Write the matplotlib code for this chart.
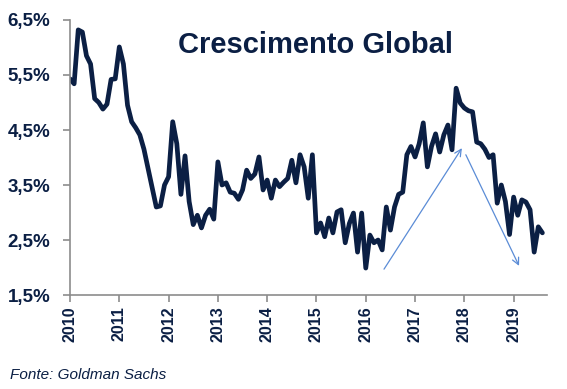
import matplotlib
matplotlib.use("Agg")
import matplotlib.pyplot as plt
import numpy as np

plt.rcParams['font.family'] = ['Liberation Sans', 'DejaVu Sans']

# crescimento global mensal, jan/2010 - ago/2019 (%)
valores = [
    5.43, 5.34, 6.32, 6.28, 5.85, 5.70, 5.07, 5.00, 4.88, 4.97, 5.42, 5.43,  # 2010
    6.01, 5.70, 4.95, 4.65, 4.54, 4.41, 4.15, 3.80, 3.45, 3.10, 3.12, 3.50,  # 2011
    3.65, 4.65, 4.25, 3.33, 4.03, 3.20, 2.78, 2.95, 2.72, 2.95, 3.06, 2.88,  # 2012
    3.92, 3.50, 3.54, 3.37, 3.35, 3.24, 3.41, 3.77, 3.62, 3.70, 4.01, 3.41,  # 2013
    3.59, 3.26, 3.59, 3.47, 3.55, 3.62, 3.95, 3.54, 4.05, 3.83, 3.26, 4.05,  # 2014
    2.63, 2.81, 2.56, 2.90, 2.63, 3.01, 3.05, 2.45, 2.80, 2.99, 2.28, 2.99,  # 2015
    1.99, 2.59, 2.45, 2.50, 2.32, 3.10, 2.68, 3.10, 3.33, 3.37, 4.05, 4.20,  # 2016
    4.01, 4.25, 4.63, 3.83, 4.20, 4.43, 4.10, 4.41, 4.59, 4.14, 5.26, 4.99,  # 2017
    4.90, 4.85, 4.83, 4.28, 4.25, 4.15, 4.00, 4.05, 3.17, 3.50, 3.20, 2.60,  # 2018
    3.28, 2.95, 3.23, 3.19, 3.05, 2.28, 2.74, 2.63,                          # 2019
]
anos = list(range(2010, 2020))
yticks = [1.5, 2.5, 3.5, 4.5, 5.5, 6.5]
ylabels = ["1,5%", "2,5%", "3,5%", "4,5%", "5,5%", "6,5%"]

# setas de tendencia (inicio, fim)
seta_alta = ((2016.37, 1.97), (2017.95, 4.17))
seta_baixa = ((2018.03, 4.05), (2019.11, 2.03))

navy = "#0b1f44"
t = 2010 + np.arange(len(valores)) / 12.0

fig = plt.figure(figsize=(5.67, 3.89), dpi=100)
ax = fig.add_axes([0.1235, 0.2416, 0.8415, 0.707])

ax.plot(t, valores, color=navy, lw=3.4, solid_joinstyle='round', solid_capstyle='round')

for ini, fim in (seta_alta, seta_baixa):
    ax.annotate("", xy=fim, xytext=ini,
                arrowprops=dict(arrowstyle="->", color="#5b8cd6", lw=0.9,
                                mutation_scale=12, shrinkA=0, shrinkB=0))

ax.set_xlim(2010, 2019.68)
ax.set_ylim(1.5, 6.5)
ax.set_xticks(anos)
ax.set_xticklabels([str(a) for a in anos], rotation=90, fontsize=11.5,
                   fontweight='bold', color=navy)
ax.set_yticks(yticks)
ax.set_yticklabels(ylabels, fontsize=13.5, fontweight='bold', color=navy)

for s in ['top', 'right']:
    ax.spines[s].set_visible(False)
for s in ['left', 'bottom']:
    ax.spines[s].set_color('#8c8c8c')
    ax.spines[s].set_linewidth(1.2)
ax.tick_params(axis='both', direction='out', length=5, width=1.2, color='#8c8c8c', pad=3)
ax.tick_params(axis='y', pad=9)

ax.text(0.515, 0.96, "Crescimento Global", transform=ax.transAxes, ha='center', va='top',
        fontsize=21, fontweight='bold', color=navy)

fig.text(10 / 567, 1 - 375 / 389, "Fonte: Goldman Sachs", fontsize=11, style='italic',
         color=navy, ha='left', va='center')

fig.savefig("out.png", dpi=100)
